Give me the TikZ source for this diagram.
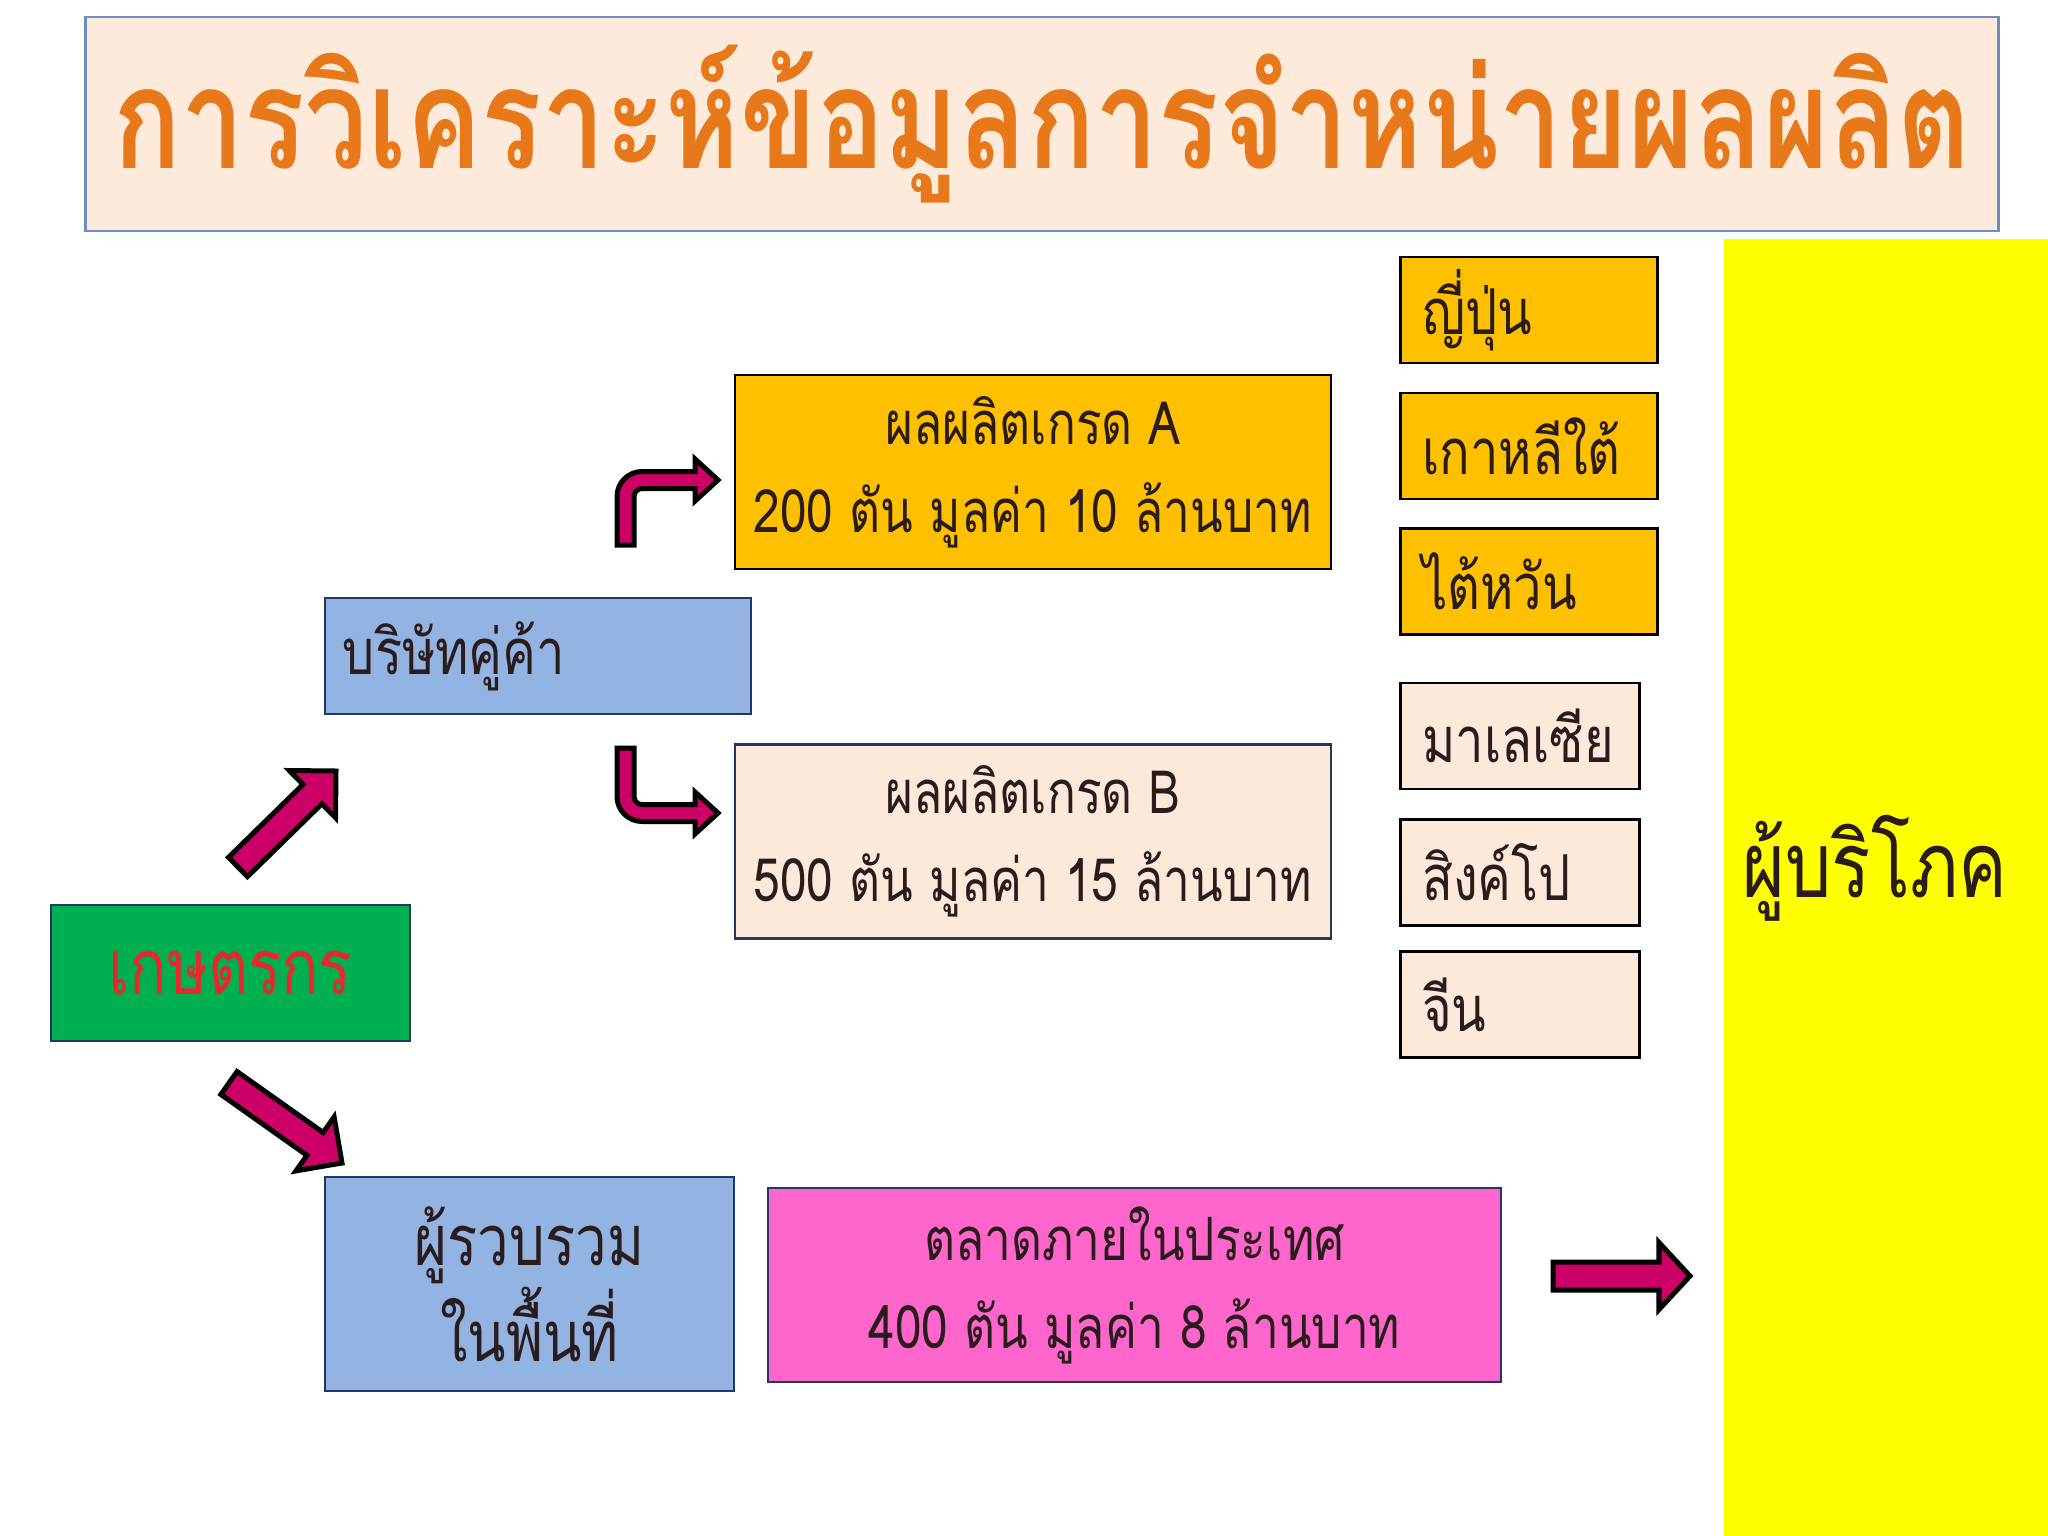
\documentclass[tikz,border=0pt]{standalone}
\usepackage{fontspec}
\newfontfamily\thaifont[Script=Thai,FakeStretch=0.8]{Loma}
\usetikzlibrary{calc}

\definecolor{titlebg}{HTML}{FDEADA}
\definecolor{titleline}{HTML}{6C8EBF}
\definecolor{titletext}{HTML}{E8791A}
\definecolor{gradeorange}{HTML}{FFC000}
\definecolor{peach}{HTML}{FDE9D9}
\definecolor{skyblue}{HTML}{93B3E2}
\definecolor{navy}{HTML}{1F3864}
\definecolor{farmgreen}{HTML}{00B050}
\definecolor{farmred}{HTML}{E8262B}
\definecolor{marketpink}{HTML}{FF66CC}
\definecolor{consumeryellow}{HTML}{FFFF00}
\definecolor{arrowred}{HTML}{CC0066}
\definecolor{textdark}{HTML}{2A1C1C}

% fat block arrow: from, to, shaft half width, head half width, head length
\newcommand{\fatarrow}[5]{%
  \coordinate (fa-h) at ($(#2)!#5!(#1)$);
  \draw[blockarrow] ($(#1)!#3!90:(#2)$) -- ($(fa-h)!#3!90:(#2)$)
    -- ($(fa-h)!#4!90:(#2)$) -- (#2) -- ($(fa-h)!#4!-90:(#2)$)
    -- ($(fa-h)!#3!-90:(#2)$) -- ($(#1)!#3!-90:(#2)$) -- cycle;}

% bent arrow, tip at the origin
\newcommand{\bentarrow}{%
  \draw[blockarrow] (-101,65) -- (-101,16.5)
    .. controls (-101,2.7) and (-89.8,-8.5) .. (-76,-8.5)
    -- (-23,-8.5) -- (-23,-21) -- (0,0) -- (-23,21) -- (-23,8.5) -- (-76,8.5)
    .. controls (-80.4,8.5) and (-84,12.1) .. (-84,16.5)
    -- (-84,65) -- cycle;}

\begin{document}
\begin{tikzpicture}[x=0.01cm, y=-0.01cm,
    box/.style={rectangle, draw=navy, line width=0.025cm, text=textdark,
      font=\thaifont\fontsize{17}{25}\selectfont, align=center, inner sep=0pt},
    gradebox/.style={box, draw=black, minimum width=5.96cm, minimum height=1.94cm},
    bluebox/.style={box, fill=skyblue},
    country/.style={box, draw=black, anchor=west, minimum height=1.06cm, inner xsep=0.22cm,
      align=left, font=\thaifont\fontsize{18}{22}\selectfont},
    blockarrow/.style={fill=arrowred, draw=black, line width=0.05cm}]
  \useasboundingbox (0,0) rectangle (2048,1536);
  \fill[white] (0,0) rectangle (2048,1536);

  % title
  \node[box, draw=titleline, fill=titlebg, minimum width=19.12cm, minimum height=2.14cm,
    text=titletext, font=\thaifont\bfseries\fontsize{40}{44}\selectfont]
    (title) at (1042,124) {การวิเคราะห์ข้อมูลการจำหน่ายผลผลิต};

  % consumers
  \fill[consumeryellow] (1724,239) rectangle (2048,1536);
  \node[text=textdark, font=\thaifont\fontsize{26}{30}\selectfont, inner sep=0pt]
    (consumer) at (1875,868) {ผู้บริโภค};

  % producers and buyers
  \node[box, draw=navy, fill=farmgreen, minimum width=3.59cm, minimum height=1.36cm,
    text=farmred, font=\thaifont\fontsize{22}{25}\selectfont] (farmer) at (230.5,973) {เกษตรกร};
  \node[bluebox, minimum width=4.26cm, minimum height=1.16cm, text width=3.9cm, align=left,
    font=\thaifont\fontsize{18}{22}\selectfont] (partner) at (538,656) {บริษัทคู่ค้า};
  \node[bluebox, minimum width=4.09cm, minimum height=2.14cm,
    font=\thaifont\fontsize{20}{26}\selectfont] (collector) at (529.5,1284) {ผู้รวบรวม\\ในพื้นที่};

  % markets
  \node[gradebox, fill=gradeorange] (gradeA) at (1033,472)
    {ผลผลิตเกรด A\\200 ตัน มูลค่า 10 ล้านบาท};
  \node[gradebox, fill=peach, draw=navy] (gradeB) at (1033,841.5)
    {ผลผลิตเกรด B\\500 ตัน มูลค่า 15 ล้านบาท};
  \node[box, fill=marketpink, minimum width=7.33cm, minimum height=1.94cm] (domestic)
    at (1134.5,1285) {ตลาดภายในประเทศ\\400 ตัน มูลค่า 8 ล้านบาท};

  % export countries
  \node[country, fill=gradeorange, minimum width=2.57cm, text width=2.13cm] (japan) at (1399,310) {ญี่ปุ่น};
  \node[country, fill=gradeorange, minimum width=2.57cm, text width=2.13cm] (korea) at (1399,446) {เกาหลีใต้};
  \node[country, fill=gradeorange, minimum width=2.57cm, text width=2.13cm] (taiwan) at (1399,581.5) {ไต้หวัน};
  \node[country, fill=peach, minimum width=2.39cm, text width=1.95cm] (malaysia) at (1399,736) {มาเลเซีย};
  \node[country, fill=peach, minimum width=2.39cm, text width=1.95cm] (singapore) at (1399,872.5) {สิงค์โป};
  \node[country, fill=peach, minimum width=2.39cm, text width=1.95cm] (china) at (1399,1004.5) {จีน};

  % arrows
  \coordinate (upTail) at (238,867);
  \coordinate (upTip) at (336,771);
  \coordinate (downTail) at (229,1083);
  \coordinate (downTip) at (342,1163);
  \coordinate (sellTail) at (1553,1276);
  \coordinate (sellTip) at (1690,1276);
  \fatarrow{upTail}{upTip}{0.135cm}{0.33cm}{0.33cm}
  \fatarrow{downTail}{downTip}{0.14cm}{0.33cm}{0.33cm}
  \fatarrow{sellTail}{sellTip}{0.14cm}{0.335cm}{0.31cm}
  \begin{scope}[shift={(718,480)}]
    \bentarrow
  \end{scope}
  \begin{scope}[shift={(718,813)}, yscale=-1]
    \bentarrow
  \end{scope}
\end{tikzpicture}
\end{document}
